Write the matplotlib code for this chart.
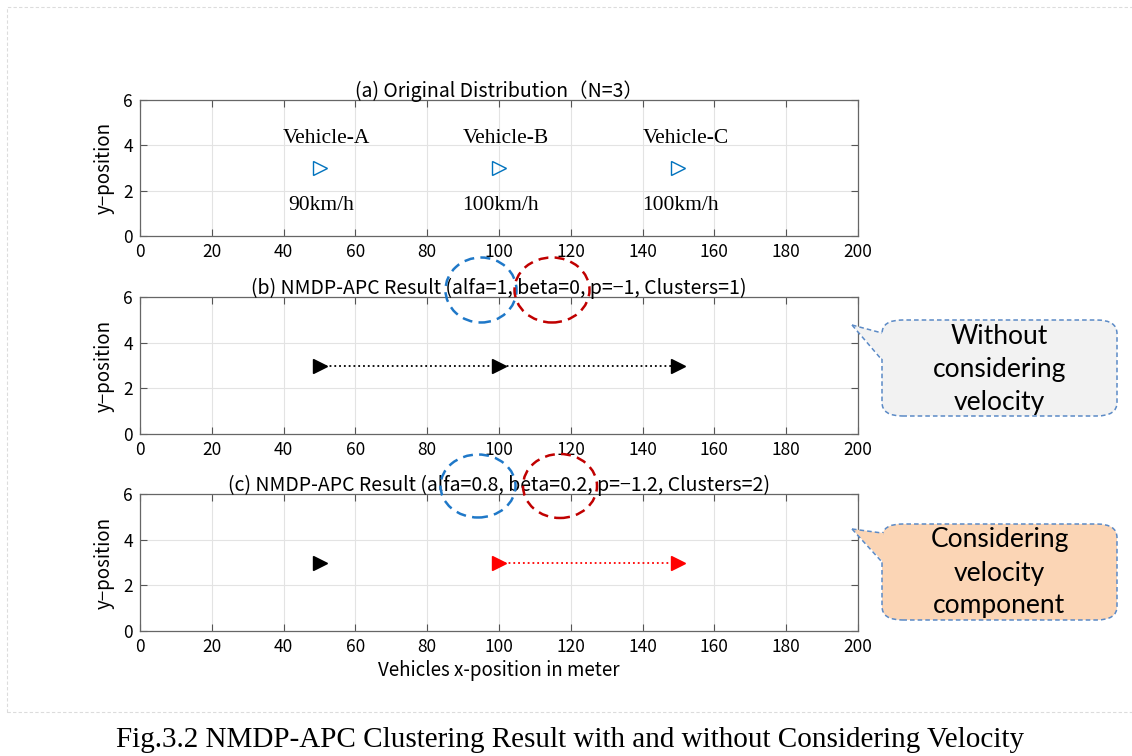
import matplotlib.pyplot as plt
from matplotlib.patches import Ellipse, FancyBboxPatch, Polygon, Rectangle
from matplotlib.lines import Line2D

# data
vehicle_x = [50, 100, 150]
vehicle_y = [3, 3, 3]
vehicle_names = ['Vehicle-A', 'Vehicle-B', 'Vehicle-C']
vehicle_speeds = ['90km/h', '100km/h', '100km/h']
clusters_b = [0, 0, 0]
clusters_c = [0, 1, 1]
cluster_colors = ['black', 'red']
titles = ['(a) Original Distribution（N=3）',
          '(b) NMDP-APC Result (alfa=1, beta=0, p=−1, Clusters=1)',
          '(c) NMDP-APC Result (alfa=0.8, beta=0.2, p=−1.2, Clusters=2)']
x_ticks = list(range(0, 201, 20))
y_ticks = [0, 2, 4, 6]

W, H = 1132, 756
plt.rcParams['font.family'] = ['Noto Sans CJK JP', 'DejaVu Sans']
fig = plt.figure(figsize=(W / 100, H / 100), dpi=100)


def fx(px):
    return px / W


def fy(py):
    return 1 - py / H


def style(ax):
    ax.set_xlim(0, 200)
    ax.set_ylim(0, 6)
    ax.set_xticks(x_ticks)
    ax.set_yticks(y_ticks)
    ax.grid(True, color='#e3e3e3', lw=0.8)
    ax.set_axisbelow(True)
    ax.tick_params(direction='in', top=True, right=True, length=5,
                   labelsize=12.5, color='#555555', pad=5)
    for s in ax.spines.values():
        s.set_color('#666666')
        s.set_linewidth(0.9)
    ax.set_ylabel('y−position', fontsize=13.5, labelpad=6)


# axes rows: (top px, bottom px)
rows = [(100, 236), (297, 434), (494, 631)]
axes = []
for top, bot in rows:
    ax = fig.add_axes([fx(140), fy(bot), fx(858) - fx(140), (bot - top) / H])
    style(ax)
    axes.append(ax)

# (a) original distribution
ax = axes[0]
ax.plot(vehicle_x, vehicle_y, ls='none', marker='>', ms=10, mfc='none',
        mec='#0072BD', mew=1.0)
for x, name, sp in zip(vehicle_x, vehicle_names, vehicle_speeds):
    ax.text(x + 2, 4.3, name, ha='center', va='center', fontsize=15.5,
            family='Liberation Serif')
    ax.text(x + 0.5, 1.35, sp, ha='center', va='center', fontsize=15.5,
            family='Liberation Serif')
ax.set_title(titles[0], fontsize=14, pad=2)


def plot_clusters(ax, labels):
    for c in sorted(set(labels)):
        xs = [x for x, l in zip(vehicle_x, labels) if l == c]
        ys = [y for y, l in zip(vehicle_y, labels) if l == c]
        col = cluster_colors[c]
        ax.plot(xs, ys, ls=':', color=col, lw=1.3, marker='>', ms=10,
                mfc=col, mec=col)


plot_clusters(axes[1], clusters_b)
axes[1].set_title(titles[1], fontsize=14, pad=2)
plot_clusters(axes[2], clusters_c)
axes[2].set_title(titles[2], fontsize=14, pad=2)
axes[2].set_xlabel('Vehicles x-position in meter', fontsize=13.5, labelpad=3)

# dashed circles around alfa / beta
circles = [((481, 290), 71, 65, '#1f78c8'), ((552, 290), 75, 65, '#c00000'),
           ((478, 486), 75, 63, '#1f78c8'), ((560, 486), 74, 64, '#c00000')]
for (cx, cy), w, h, col in circles:
    fig.patches.append(Ellipse((fx(cx), fy(cy)), w / W, h / H, fill=False,
                               ec=col, lw=1.8, ls=(0, (4, 2.5)),
                               transform=fig.transFigure))


# callouts
def callout(x0, y0, x1, y1, tip, base_top, base_bot, fc, text):
    box = FancyBboxPatch((fx(x0), fy(y1)), (x1 - x0) / W, (y1 - y0) / H,
                         boxstyle='round,pad=0,rounding_size=0.018',
                         fc=fc, ec='#5b8ac6', lw=1.1, ls=(0, (3, 2)),
                         transform=fig.transFigure)
    fig.patches.append(box)
    tail = Polygon([(fx(tip[0]), fy(tip[1])), (fx(x0 + 1.5), fy(base_top)),
                    (fx(x0 + 1.5), fy(base_bot))], closed=True, fc=fc,
                   ec='none', transform=fig.transFigure)
    fig.patches.append(tail)
    for by in (base_top, base_bot):
        fig.lines.append(Line2D([fx(tip[0]), fx(x0)], [fy(tip[1]), fy(by)],
                                color='#5b8ac6', lw=1.1, ls=(0, (3, 2)),
                                transform=fig.transFigure))
    fig.text(fx((x0 + x1) / 2), fy((y0 + y1) / 2 + 1), text, ha='center',
             va='center', fontsize=19, family='Lato', linespacing=1.4)


callout(882, 320, 1117, 416, (852, 325), 333, 360, '#f2f2f2',
        'Without\nconsidering\nvelocity')
callout(882, 524, 1117, 620, (852, 529), 533, 562, '#fbd5b5',
        'Considering\nvelocity\ncomponent')

# frame and caption
fig.patches.append(Rectangle((fx(7), fy(712)), 1.0, fy(7) - fy(712),
                             fill=False, ec='#dcdcdc', lw=0.8, ls=(0, (3, 2)),
                             transform=fig.transFigure))
fig.text(fx(570), fy(740), 'Fig.3.2 NMDP-APC Clustering Result with and without Considering Velocity',
         ha='center', va='center', fontsize=21, family='Liberation Serif')

fig.savefig('out.png', dpi=100)
